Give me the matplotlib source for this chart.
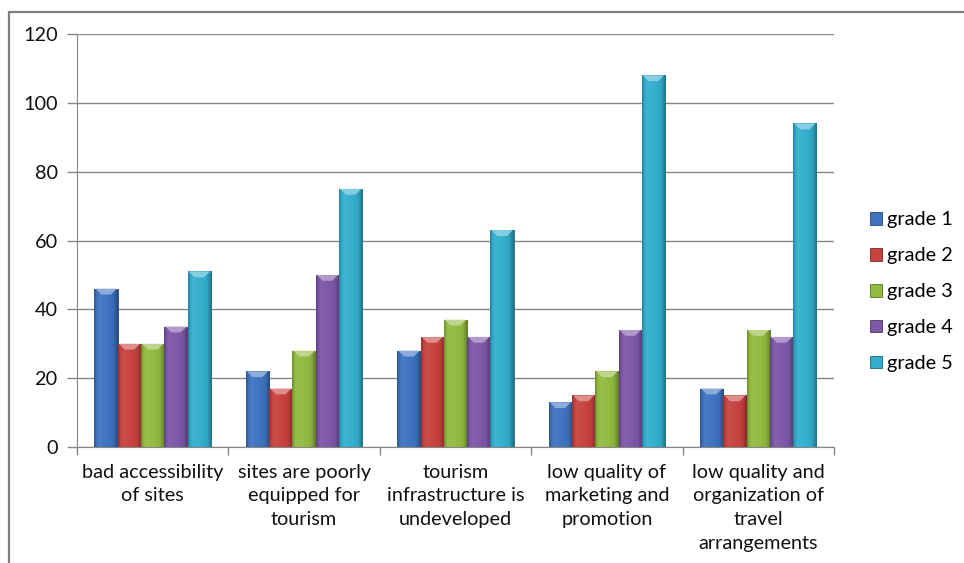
import numpy as np
import matplotlib
matplotlib.use('Agg')
import matplotlib.pyplot as plt
from matplotlib.patches import Patch, Polygon, Rectangle
from matplotlib.colors import LinearSegmentedColormap, to_rgb

plt.rcParams['font.family'] = ['Lato', 'DejaVu Sans']

categories = [
    'bad accessibility\nof sites',
    'sites are poorly\nequipped for\ntourism',
    'tourism\ninfrastructure is\nundeveloped',
    'low quality of\nmarketing and\npromotion',
    'low quality and\norganization of\ntravel\narrangements',
]
series_names = ['grade 1', 'grade 2', 'grade 3', 'grade 4', 'grade 5']
grade_1 = [46, 22, 28, 13, 17]
grade_2 = [30, 17, 32, 15, 15]
grade_3 = [30, 28, 37, 22, 34]
grade_4 = [35, 50, 32, 34, 32]
grade_5 = [51, 75, 63, 108, 94]
y_ticks = [0, 20, 40, 60, 80, 100, 120]

series = [grade_1, grade_2, grade_3, grade_4, grade_5]
colors = ['#3F73C0', '#C7423F', '#92BA40', '#7D57A8', '#33AECD']


def shade(c, f):
    r, g, b = to_rgb(c)
    if f >= 1:
        return tuple(v + (1 - v) * (f - 1) for v in (r, g, b))
    return tuple(v * f for v in (r, g, b))


# horizontal bevel profile across each bar
prof_x = [0.0, 0.08, 0.2, 0.5, 0.8, 0.92, 1.0]
prof_f = [0.72, 0.95, 1.06, 1.02, 0.95, 0.78, 0.65]

fig = plt.figure(figsize=(9.64, 5.63), dpi=100)
ax = fig.add_axes([0.0799, 0.206, 0.7852, 0.7336])

n = len(series)
bar_w = 1.0 / (n + 1.5)
x = np.arange(len(categories))

for i, (vals, col) in enumerate(zip(series, colors)):
    offs = (i - (n - 1) / 2) * bar_w
    bars = ax.bar(x + offs, vals, width=bar_w, color=col,
                  edgecolor=shade(col, 0.6), linewidth=0.6, zorder=3)
    xs = np.linspace(0, 1, 64)
    grad = np.array([shade(col, f) for f in np.interp(xs, prof_x, prof_f)])
    cmap = LinearSegmentedColormap.from_list('g%d' % i, grad)
    for b, v in zip(bars, vals):
        x0 = b.get_x()
        x1 = x0 + b.get_width()
        im = ax.imshow(xs[None, :], cmap=cmap, aspect='auto',
                       extent=[x0, x1, 0, v], zorder=3.5,
                       interpolation='bicubic')
        im.set_clip_path(b)
        # light chevron on the bar top
        bev_h = 1.7
        top = Polygon([(x0 + bar_w * 0.04, v), (x1 - bar_w * 0.04, v),
                       (x1 - bar_w * 0.3, v - bev_h),
                       (x0 + bar_w * 0.3, v - bev_h)],
                      closed=True, facecolor=shade(col, 1.4),
                      edgecolor='none', zorder=4)
        ax.add_patch(top)

ax.set_xlim(-0.5, len(categories) - 0.5)
ax.set_ylim(0, 120)
ax.set_yticks(y_ticks)
ax.yaxis.grid(True, color='#868686', linewidth=1.0, zorder=0)
ax.set_axisbelow(True)

ax.set_xticks(x)
ax.set_xticklabels(categories, fontsize=14.3, color='#111111',
                   linespacing=1.48)
ax.set_xticks(np.arange(len(categories) + 1) - 0.5, minor=True)
ax.tick_params(axis='x', which='major', length=0, pad=12)
ax.tick_params(axis='x', which='minor', length=6, color='#868686', width=1)
ax.tick_params(axis='y', length=7, color='#868686', width=1, labelsize=14.3,
               labelcolor='#111111', pad=7)

for s in ['top', 'right']:
    ax.spines[s].set_visible(False)
ax.spines['left'].set_color('#868686')
ax.spines['bottom'].set_color('#868686')

handles = [Patch(facecolor=c, edgecolor=shade(c, 0.6), linewidth=0.6)
           for c in colors]
fig.legend(handles, series_names, loc='upper left',
           bbox_to_anchor=(0.892, 0.642), frameon=False, fontsize=14.3,
           handlelength=0.6, handleheight=0.6, handletextpad=0.25,
           labelspacing=0.95, borderpad=0)

# chart area border
fig.patches.append(Rectangle((9 / 964, -0.05), 1.2, 0.05 + 1 - 12 / 563,
                             transform=fig.transFigure, fill=False,
                             edgecolor='#7F7F7F', linewidth=1.6))

fig.savefig('out.png', dpi=100)
